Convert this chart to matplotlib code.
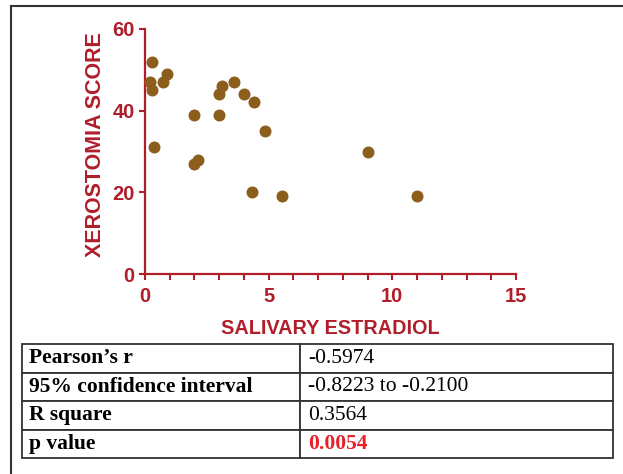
import numpy as np
import matplotlib.pyplot as plt
from matplotlib.lines import Line2D

# Data
estradiol = [0.2, 0.27, 0.27, 0.36, 0.74, 0.88, 2.0, 2.0, 2.13, 3.0,
             3.1, 3.0, 3.6, 4.0, 4.39, 4.32, 4.86, 5.53, 9.0, 11.0]
xero_score = [47, 52, 45, 31, 47, 49, 39, 27, 28, 44,
              46, 39, 47, 44, 42, 20, 35, 19, 30, 19]

stat_names = ["Pearson\u2019s r", "95% confidence interval", "R square", "p value"]
stat_values = ["-0.5974", "-0.8223 to -0.2100", "0.3564", "0.0054"]

red = '#B01E2A'
dot = '#8B5E1C'

fig = plt.figure(figsize=(6.23, 4.74), dpi=100)

# outer frame (open at right / bottom, as cropped in the original)
fig.add_artist(Line2D([11/623, 11/623], [0, 1 - 6/474], color='#333333', lw=1.5))
fig.add_artist(Line2D([11/623, 1], [1 - 6/474, 1 - 6/474], color='#333333', lw=1.5))

ax = fig.add_axes([145/623, 1 - 274/474, 371/623, 245/474])
ax.scatter(estradiol, xero_score, s=58, color=dot, zorder=3, clip_on=False)

ax.set_xlim(0, 15)
ax.set_ylim(0, 60)
ax.set_xticks([0, 5, 10, 15])
ax.set_xticks(np.arange(0, 16, 1), minor=True)
ax.set_yticks([0, 20, 40, 60])
for s in ['top', 'right']:
    ax.spines[s].set_visible(False)
for s in ['left', 'bottom']:
    ax.spines[s].set_color(red)
    ax.spines[s].set_linewidth(1.6)
ax.tick_params(which='both', direction='out', length=4.5, width=1.5,
               color=red, labelcolor=red, labelsize=14.5)
ax.tick_params(axis='x', pad=5)
ax.tick_params(axis='y', pad=3)
for lab in ax.get_xticklabels() + ax.get_yticklabels():
    lab.set_fontweight('bold')
    lab.set_family('Liberation Sans')

ax.set_xlabel('SALIVARY ESTRADIOL', color=red, fontsize=14.3, fontweight='bold',
              family='Liberation Sans', labelpad=9)
ax.set_ylabel('XEROSTOMIA SCORE', color=red, fontsize=15.5, fontweight='bold',
              family='Liberation Sans')
ax.yaxis.set_label_coords(-39/371, 0.53)

# statistics table
tab_ax = fig.add_axes([22/623, 1 - 458/474, 591/623, 114/474])
tab_ax.axis('off')
tbl = tab_ax.table(cellText=[[n, v] for n, v in zip(stat_names, stat_values)],
                   colWidths=[278/591, 313/591], bbox=[0, 0, 1, 1], cellLoc='left')
tbl.auto_set_font_size(False)
for (r, c), cell in tbl.get_celld().items():
    cell.set_edgecolor('#333333')
    cell.set_linewidth(1.3)
    cell.PAD = 0.025
    t = cell.get_text()
    t.set_family('Liberation Serif')
    t.set_fontsize(15.5)
    if c == 0:
        t.set_fontweight('bold')
    if r == 3 and c == 1:
        t.set_fontweight('bold')
        t.set_color('#E8202A')

fig.savefig('out.png', dpi=100)
